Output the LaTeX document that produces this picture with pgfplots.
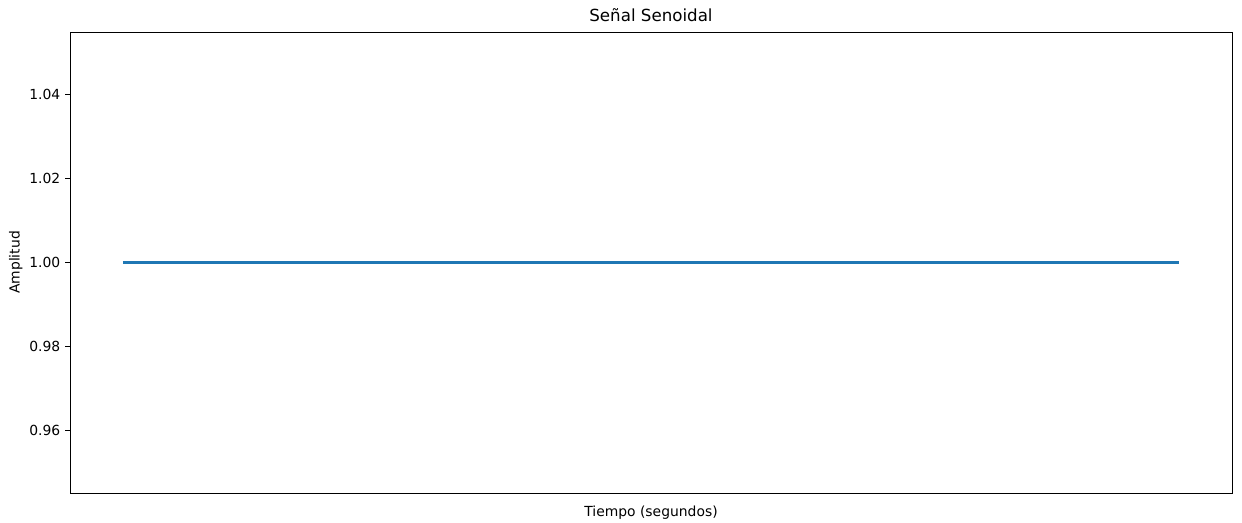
\documentclass[border=0pt]{standalone}
\usepackage{pgfplots}
\pgfplotsset{compat=1.18}
\usepackage{fontspec}
\setmainfont{DejaVu Sans}
\definecolor{mplblue}{HTML}{1F77B4}
\begin{document}
\begin{tikzpicture}
\begin{axis}[
  scale only axis,
  width=836.64pt, height=331.92pt,
  xmin=-0.05, xmax=1.05,
  ymin=0.945, ymax=1.055,
  xtick=\empty,
  ytick={0.96,0.98,1.00,1.02,1.04},
  ytick pos=left,
  yticklabel style={/pgf/number format/.cd,fixed,fixed zerofill,precision=2,assume math mode=true},
  tick label style={font=\fontsize{10}{12}\selectfont},
  tick align=outside,
  major tick length=3.5pt,
  tick style={black, line width=0.7pt},
  axis line style={line width=0.7pt},
  title={Señal Senoidal},
  title style={font=\fontsize{12}{14}\selectfont, yshift=-2pt},
  xlabel={Tiempo (segundos)},
  ylabel={Amplitud},
  label style={font=\fontsize{10}{12}\selectfont},
  xlabel style={yshift=-2pt},
  ylabel style={yshift=-2pt},
]
\addplot[mplblue, line width=1.45pt] coordinates {(0,1.0) (1,1.0)};
\end{axis}
\pgfresetboundingbox
\useasboundingbox ([xshift=-50.4pt,yshift=-21.6pt]current axis.south west) rectangle ([xshift=7.2pt,yshift=23.04pt]current axis.north east);
\end{tikzpicture}
\end{document}
